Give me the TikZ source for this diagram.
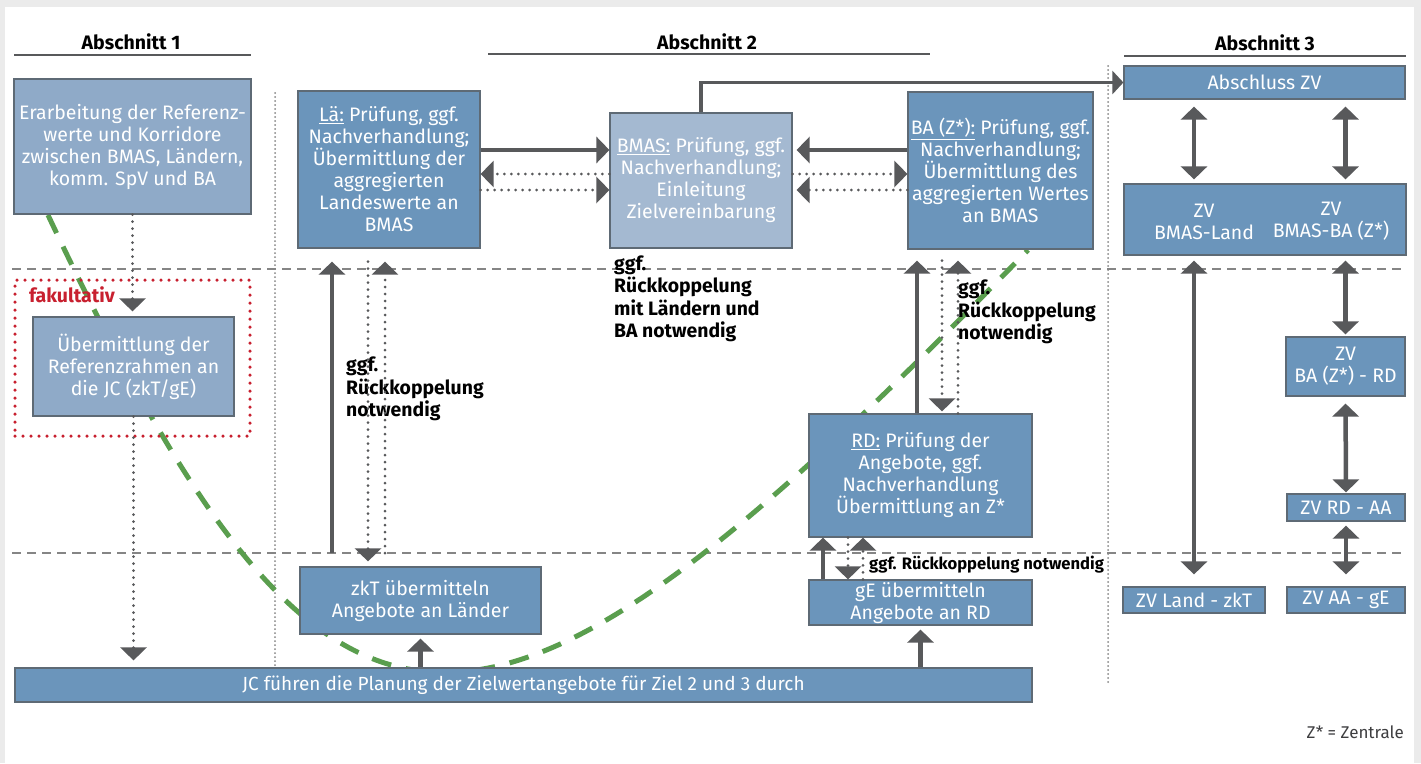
\documentclass[tikz,border=0pt]{standalone}
\usepackage{fontspec}
\setmainfont{Fira Sans}
\usetikzlibrary{arrows.meta,positioning}

\definecolor{boxblue}{HTML}{6B95BB}
\definecolor{boxlight}{HTML}{8FAAC8}
\definecolor{boxpale}{HTML}{A4B9D1}
\definecolor{boxline}{HTML}{5E6A75}
\definecolor{arrgray}{HTML}{58595B}
\definecolor{sepgray}{HTML}{858585}
\definecolor{fakred}{HTML}{C8202F}
\definecolor{curvegreen}{HTML}{5A9E4E}
\definecolor{pagegray}{HTML}{EBEBEB}

\tikzset{
  box/.style={draw=boxline, line width=1.2pt, fill=boxblue, text=white, align=center,
    inner sep=0pt, font=\fontsize{19.5}{22}\selectfont},
  lightbox/.style={box, fill=boxlight},
  palebox/.style={box, fill=boxpale},
  boxtxt/.style={text=white, align=center, inner sep=0pt, font=\fontsize{19.5}{22}\selectfont},
  notetxt/.style={align=left, anchor=west, inner sep=0pt, font=\bfseries\fontsize{19.4}{22.5}\selectfont},
  headtxt/.style={inner sep=0pt, font=\bfseries\fontsize{19.5}{22}\selectfont},
  headrule/.style={draw=arrgray, line width=2.6pt},
  arrtip/.style={-{Triangle[width=26pt,length=13pt]}},
  arr/.style={draw=arrgray, line width=4.5pt, arrtip},
  thinarr/.style={draw=arrgray, line width=3.2pt, -{Triangle[width=23pt,length=11pt]}},
  darr/.style={draw=arrgray, line width=4.5pt,
    {Triangle[width=26pt,length=13pt]}-{Triangle[width=26pt,length=13pt]}},
  dotarr/.style={draw=arrgray, line width=3pt, line cap=round,
    dash pattern=on 0pt off 7pt, arrtip},
  hsep/.style={draw=sepgray, line width=2pt, dash pattern=on 9pt off 6pt},
  vsep/.style={draw=sepgray, line width=2pt, line cap=round, dash pattern=on 0pt off 4pt},
  fakbox/.style={draw=fakred, line width=3.5pt, line cap=round, dash pattern=on 0pt off 8pt},
  greencurve/.style={draw=curvegreen, line width=5pt, dash pattern=on 20pt off 15pt},
}

\begin{document}
\begin{tikzpicture}[x=1pt, y=-1pt]
  % page
  \fill[pagegray] (0,0) rectangle (1421,763);
  \fill[white] (5,7) rectangle (1414,763);
  \useasboundingbox (0,0) rectangle (1421,763);

  % headings
  \node[headtxt] (h1) at (131,42) {Abschnitt 1};
  \node[headtxt] (h2) at (707,42) {Abschnitt 2};
  \node[headtxt] (h3) at (1265,43) {Abschnitt 3};
  \draw[headrule] (14,55) -- (251,55);
  \draw[headrule] (488,54) -- (930,54);
  \draw[headrule] (1124,56) -- (1406,56);

  % separators
  \draw[hsep] (12,269) -- (1406,269);
  \draw[hsep] (12,553) -- (1406,553);
  \draw[vsep] (275,93) -- (275,667);
  \draw[vsep] (1108,66) -- (1108,683);

  % green curve
  \draw[greencurve] (48,215) .. controls (335,824) and (480,814) .. (1028,250);

  % Abschnitt 1
  \node[lightbox, minimum width=237pt, minimum height=135pt] (erar) at (132.5,146.5)
    {Erarbeitung der Referenz-\\werte und Korridore\\zwischen BMAS, Ländern,\\komm. SpV und BA};
  \node[fakbox, minimum width=235pt, minimum height=156pt] (fak) at (132.5,358) {};
  \node[anchor=west, inner sep=0pt, text=fakred, font=\bfseries\fontsize{19.5}{22}\selectfont]
    (fakl) at (29,295) {fakultativ};
  \node[lightbox, minimum width=201pt, minimum height=99pt] (ueber) at (133.5,366.5)
    {Übermittlung der\\Referenzrahmen an\\die JC (zkT/gE)};

  % Abschnitt 2
  \node[box, minimum width=182pt, minimum height=157pt] (la) at (389,169.5)
    {\underline{Lä:} Prüfung, ggf.\\Nachverhandlung;\\Übermittlung der\\aggregierten\\Landeswerte an\\BMAS};
  \node[palebox, minimum width=182pt, minimum height=135pt] (bmas) at (701,180.5)
    {\underline{BMAS:} Prüfung, ggf.\\Nachverhandlung;\\Einleitung\\Zielvereinbarung};
  \node[box, minimum width=185pt, minimum height=157pt] (ba) at (1000.5,170.5)
    {\underline{BA (Z*):} Prüfung, ggf.\\Nachverhandlung;\\Übermittlung des\\aggregierten Wertes\\an BMAS};
  \node[box, minimum width=223pt, minimum height=123pt] (rd) at (920.5,475.5)
    {\underline{RD:} Prüfung der\\Angebote, ggf.\\Nachverhandlung\\Übermittlung an Z*};
  \node[box, minimum width=223pt, minimum height=45pt] (ge) at (920.5,602.5)
    {gE übermitteln\\Angebote an RD};
  \node[box, minimum width=241pt, minimum height=67pt] (zkt) at (420.5,600.5)
    {zkT übermitteln\\Angebote an Länder};
  \node[box, minimum width=1017pt, minimum height=34pt, font=\fontsize{19}{22}\selectfont] (jc) at (523.5,685)
    {JC führen die Planung der Zielwertangebote für Ziel 2 und 3 durch};

  % Abschnitt 3
  \node[box, minimum width=281pt, minimum height=33pt] (absch) at (1264.5,82.5) {Abschluss ZV};
  \node[box, minimum width=282pt, minimum height=71pt] (zv) at (1265,219.5) {};
  \node[boxtxt] (zvland) at (1204,221.5) {ZV\\BMAS-Land};
  \node[boxtxt] (zvbmba) at (1331,221.5) {ZV\\BMAS-BA (Z*)};
  \node[box, minimum width=119pt, minimum height=59pt] (zvbard) at (1345.5,366.5) {ZV\\BA (Z*) - RD};
  \node[box, minimum width=118pt, minimum height=27pt] (zvrdaa) at (1346,507.5) {ZV RD - AA};
  \node[box, minimum width=118pt, minimum height=26pt] (zvaage) at (1346,600) {ZV AA - gE};
  \node[box, minimum width=142pt, minimum height=26pt] (zvlzkt) at (1194,600) {ZV Land - zkT};

  % feedback notes
  \node[notetxt] (fb1) at (346,389) {ggf.\\Rückkoppelung\\notwendig};
  \node[notetxt] (fb2) at (614,299) {ggf.\\Rückkoppelung\\mit Ländern und\\BA notwendig};
  \node[notetxt] (fb3) at (958,312) {ggf.\\Rückkoppelung\\notwendig};
  \node[notetxt, font=\bfseries\fontsize{16.6}{18}\selectfont] (fb4) at (869,565)
    {ggf. Rückkoppelung notwendig};
  \node[anchor=east, inner sep=0pt, text=arrgray!70!black, font=\fontsize{17}{19}\selectfont]
    (zlegend) at (1404,732) {Z* = Zentrale};

  % row and column helpers
  \coordinate (r1) at (0,150);
  \coordinate (r2) at (0,174);
  \coordinate (r3) at (0,190);
  \coordinate (lu) at (332,553);
  \coordinate (ld) at (368,553);
  \coordinate (lu2) at (385,553);
  \coordinate (bu) at (917,0);
  \coordinate (bd) at (942,0);
  \coordinate (bu2) at (958,0);
  \coordinate (gu) at (823,0);
  \coordinate (gd) at (848,0);
  \coordinate (gu2) at (863,0);

  % Abschnitt 1 connectors
  \draw[dotarr, shorten >=5pt] (erar.south) -- (ueber.north -| erar.south);
  \draw[dotarr, shorten >=7pt] (ueber.south) -- (jc.north -| ueber.south);

  % Länder <-> BMAS <-> BA
  \draw[arr] (la.east |- r1) -- (bmas.west |- r1);
  \draw[dotarr] (bmas.west |- r2) -- (la.east |- r2);
  \draw[dotarr] (la.east |- r3) -- (bmas.west |- r3);
  \draw[arr, shorten >=4pt] (ba.west |- r1) -- (bmas.east |- r1);
  \draw[dotarr] (bmas.east |- r2) -- (ba.west |- r2);
  \draw[dotarr, shorten >=4pt] (ba.west |- r3) -- (bmas.east |- r3);
  \draw[thinarr] (bmas.north) |- (absch.west);

  % Länder column
  \draw[arr, shorten >=13pt] (lu) -- (lu |- la.south);
  \draw[dotarr, shorten <=13pt, shorten >=5pt] (ld |- la.south) -- (ld |- zkt.north);
  \draw[dotarr, shorten >=13pt] (lu2) -- (lu2 |- la.south);
  \draw[arr, shorten >=4pt] (jc.north -| zkt.south) -- (zkt.south);

  % BA / RD / gE column
  \draw[arr, shorten >=11pt] (bu |- rd.north) -- (bu |- ba.south);
  \draw[dotarr, shorten <=11pt, shorten >=2pt] (bd |- ba.south) -- (bd |- rd.north);
  \draw[dotarr, shorten >=11pt] (bu2 |- rd.north) -- (bu2 |- ba.south);
  \draw[arr] (gu |- ge.north) -- (gu |- rd.south);
  \draw[dotarr] (gd |- rd.south) -- (gd |- ge.north);
  \draw[dotarr] (gu2 |- ge.north) -- (gu2 |- rd.south);
  \draw[arr, shorten >=4pt] (jc.north -| ge.south) -- (ge.south);

  % Abschnitt 3 connectors
  \draw[darr, shorten <=7pt, shorten >=4pt] (absch.south -| zvlzkt.north) -- (zv.north -| zvlzkt.north);
  \draw[darr, shorten <=7pt, shorten >=4pt] (absch.south -| zvbard.north) -- (zv.north -| zvbard.north);
  \draw[darr, shorten <=5pt, shorten >=12pt] (zv.south -| zvlzkt.north) -- (zvlzkt.north);
  \draw[darr, shorten <=5pt, shorten >=2pt] (zv.south -| zvbard.north) -- (zvbard.north);
  \draw[darr, shorten <=7pt, shorten >=1pt] (zvbard.south) -- (zvrdaa.north);
  \draw[darr, shorten <=4pt, shorten >=12pt] (zvrdaa.south) -- (zvaage.north);
\end{tikzpicture}
\end{document}
